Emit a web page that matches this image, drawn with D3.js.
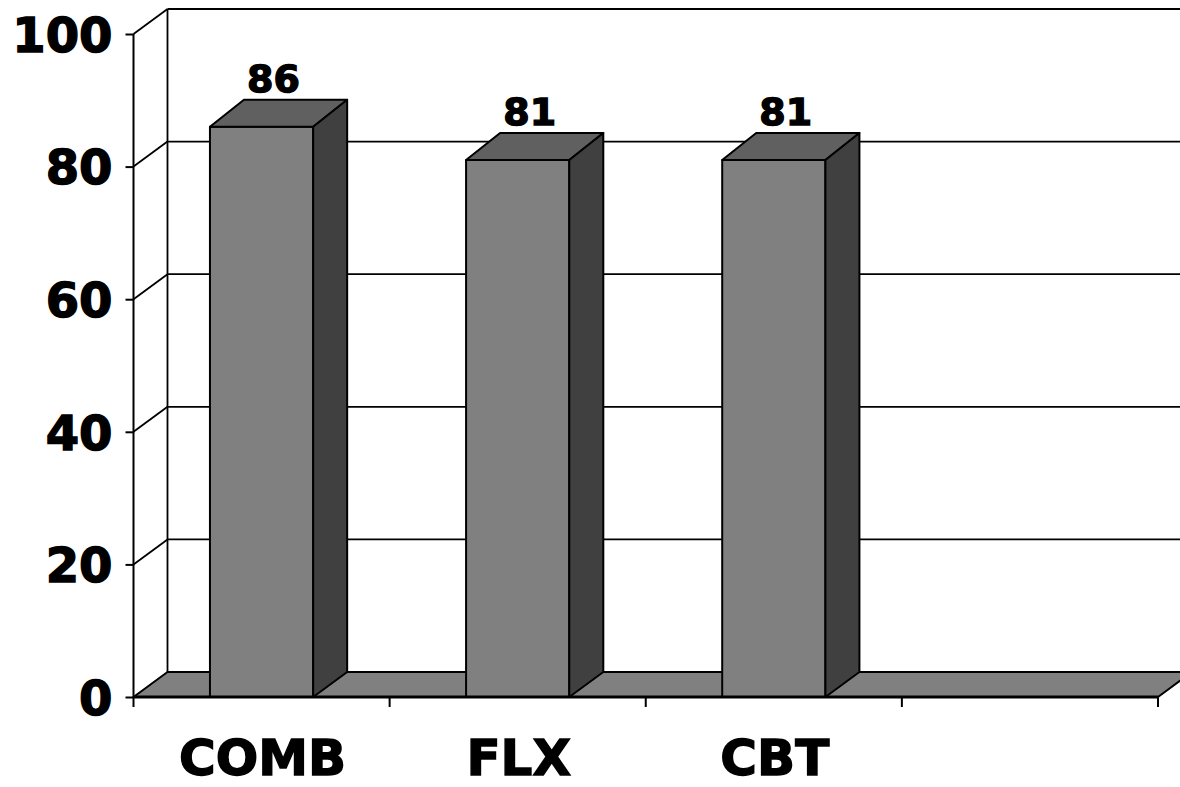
<!DOCTYPE html>
<html>
<head>
<meta charset="utf-8">
<script src="https://cdn.jsdelivr.net/npm/d3@7"></script>
<style>
  body { margin: 0; background: #fff; }
  svg { display: block; }
  .lbl { font-family: "DejaVu Sans", sans-serif; font-weight: bold; fill: #000; stroke: #000; stroke-width: 1.4px; }
</style>
</head>
<body>
<div id="chart"></div>
<script>
// data
const categories = ["COMB", "FLX", "CBT", ""];
const values = [86, 81, 81, null];
const yTicks = [0, 20, 40, 60, 80, 100];

const W = 1180, H = 787;
const x0 = 133.5, x1 = 1158,
  yBottom = 697, yTop = 34,
  depthX = 34, depthY = 25,      // floor / wall depth
  barDepthX = 34, barDepthY = 27; // bar top depth

const svg = d3.select("#chart").append("svg")
  .attr("width", W)
  .attr("height", H);

const xScale = d3.scaleBand()
  .domain(d3.range(categories.length))
  .range([x0, x1])
  .paddingInner(0)
  .paddingOuter(0);

const yScale = d3.scaleLinear()
  .domain([0, 100])
  .range([yBottom, yTop]);

const barW = xScale.bandwidth() * 0.403;
const barOff = (xScale.bandwidth() - barW) / 2;

// back wall gridlines + side wall diagonals
let walls = svg.append("g")
  .attr("stroke", "#000")
  .attr("stroke-width", 1.8)
  .attr("fill", "none");

yTicks.filter(t => t > 0).forEach(t => {
  let y = yScale(t);
  walls.append("line")
    .attr("x1", x0).attr("y1", y)
    .attr("x2", x0 + depthX).attr("y2", y - depthY);
  walls.append("line")
    .attr("x1", x0 + depthX).attr("y1", y - depthY)
    .attr("x2", x1 + depthX + 10).attr("y2", y - depthY);
});

// back wall vertical edge
walls.append("line")
  .attr("x1", x0 + depthX).attr("y1", yScale(0) - depthY)
  .attr("x2", x0 + depthX).attr("y2", yScale(100) - depthY);

// floor
svg.append("polygon")
  .attr("points", [
    [x0, yBottom], [x1, yBottom],
    [x1 + depthX, yBottom - depthY], [x0 + depthX, yBottom - depthY]
  ].map(p => p.join(",")).join(" "))
  .attr("fill", "#808080")
  .attr("stroke", "#000")
  .attr("stroke-width", 2)
  .attr("stroke-linejoin", "round");

// bars
let bars = svg.append("g")
  .attr("stroke", "#000")
  .attr("stroke-width", 2)
  .attr("stroke-linejoin", "round");

values.forEach((v, i) => {
  if (v == null) return;
  let left = xScale(i) + barOff,
    right = left + barW,
    top = yScale(v);
  let pts = a => a.map(p => p.join(",")).join(" ");

  bars.append("polygon")
    .attr("points", pts([[left, top], [right, top], [right, yBottom], [left, yBottom]]))
    .attr("fill", "#808080");
  bars.append("polygon")
    .attr("points", pts([[left, top], [left + barDepthX, top - barDepthY],
      [right + barDepthX, top - barDepthY], [right, top]]))
    .attr("fill", "#606060");
  bars.append("polygon")
    .attr("points", pts([[right, top], [right + barDepthX, top - barDepthY],
      [right + depthX, yBottom - depthY], [right, yBottom]]))
    .attr("fill", "#404040");

  svg.append("text")
    .attr("class", "lbl")
    .attr("x", left + barW / 2 + 12)
    .attr("y", top - barDepthY - 8)
    .attr("text-anchor", "middle")
    .style("font-size", "38px")
    .text(v);
});

// y axis
let yAxis = svg.append("g")
  .attr("transform", "translate(" + x0 + ",0)")
  .call(d3.axisLeft(yScale)
    .tickValues(yTicks)
    .tickSize(8)
    .tickPadding(13)
    .tickFormat(d3.format("d")));

yAxis.select(".domain")
  .attr("stroke", "#000")
  .attr("stroke-width", 2)
  .attr("d", "M0," + yBottom + "V" + yTop);
yAxis.selectAll(".tick line").attr("stroke", "#000").attr("stroke-width", 2);
yAxis.selectAll("text")
  .attr("class", "lbl")
  .attr("dy", "0.36em")
  .style("font-size", "48px");

// x axis line and ticks at band edges
let xAxis = svg.append("g");
xAxis.append("line")
  .attr("x1", x0).attr("y1", yBottom)
  .attr("x2", x1).attr("y2", yBottom)
  .attr("stroke", "#000")
  .attr("stroke-width", 3);

d3.range(categories.length + 1).forEach(i => {
  let x = x0 + i * xScale.step();
  xAxis.append("line")
    .attr("x1", x).attr("y1", yBottom)
    .attr("x2", x).attr("y2", yBottom + 10)
    .attr("stroke", "#000")
    .attr("stroke-width", 2);
});

xAxis.selectAll(".cat")
  .data(categories)
  .enter()
  .append("text")
  .attr("class", "lbl cat")
  .attr("x", (d, i) => xScale(i) + xScale.bandwidth() / 2 + 1)
  .attr("y", 775)
  .attr("text-anchor", "middle")
  .style("font-size", "50px")
  .text(d => d);
</script>
</body>
</html>
